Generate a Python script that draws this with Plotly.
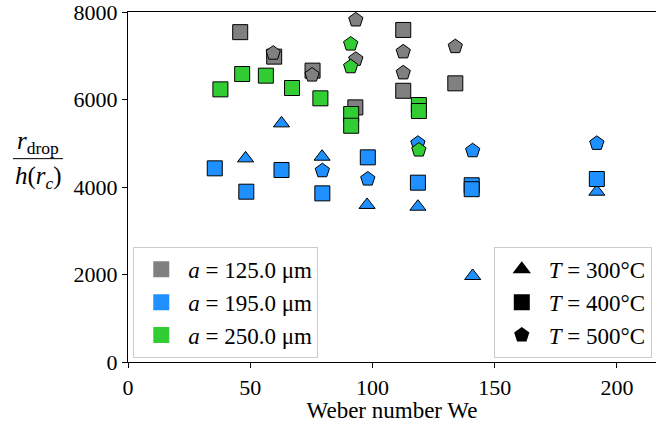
import plotly.graph_objects as go

# Droplet radius ratio vs Weber number, grouped by particle size a and temperature T
# a = 125.0 um (gray)
we_125_T400 = [45.9, 59.8, 75.5, 93.0, 112.6, 112.6, 133.9]
r_125_T400 = [7540, 6980, 6660, 5820, 7590, 6200, 6370]
we_125_T500 = [59.4, 75.3, 93.2, 93.2, 112.6, 112.6, 133.9]
r_125_T500 = [7060, 6560, 7820, 6920, 7090, 6610, 7210]

# a = 195.0 um (blue)
we_195_T300 = [48.1, 62.8, 79.4, 97.8, 118.6, 141.0, 191.8]
r_195_T300 = [4655, 5455, 4693, 3590, 3550, 1966, 3893]
we_195_T400 = [35.5, 48.4, 62.8, 79.5, 98.1, 118.6, 140.6, 140.6, 191.8]
r_195_T400 = [4427, 3893, 4389, 3855, 4678, 4099, 4040, 3950, 4183]
we_195_T500 = [79.5, 98.1, 118.6, 141.0, 191.8]
r_195_T500 = [4373, 4183, 5000, 4830, 4998]

# a = 250.0 um (green)
we_250_T400 = [37.8, 46.7, 56.4, 67.1, 78.7, 91.3, 91.3, 119.0, 119.0]
r_250_T400 = [6232, 6583, 6545, 6263, 6027, 5669, 5400, 5874, 5737]
we_250_T500 = [91.1, 91.1, 119.0]
r_250_T500 = [7269, 6750, 4846]

size_labels = ["125.0", "195.0", "250.0"]
temp_labels = ["300", "400", "500"]
colors = ["#808080", "#1E90FF", "#32CD32"]
symbols = ["triangle-up", "square", "pentagon"]

x_ticks = [0, 50, 100, 150, 200]
y_ticks = [0, 2000, 4000, 6000, 8000]

FONT = "Liberation Serif"

series = [
    (we_125_T400, r_125_T400, 0, 1),
    (we_125_T500, r_125_T500, 0, 2),
    (we_195_T300, r_195_T300, 1, 0),
    (we_195_T400, r_195_T400, 1, 1),
    (we_195_T500, r_195_T500, 1, 2),
    (we_250_T400, r_250_T400, 2, 1),
    (we_250_T500, r_250_T500, 2, 2),
]

fig = go.Figure()
sizes = {"triangle-up": 14, "square": 15, "pentagon": 15}
for xs, ys, ci, si in series:
    fig.add_trace(go.Scatter(
        x=xs, y=ys, mode="markers", showlegend=False, cliponaxis=False,
        marker=dict(symbol=symbols[si], size=sizes[symbols[si]], color=colors[ci],
                    line=dict(color="black", width=1)),
    ))

# Legend for particle size (colour patches)
for lab, col in zip(size_labels, colors):
    fig.add_trace(go.Scatter(
        x=[None], y=[None], mode="markers", legend="legend",
        name=f"<i>a</i> = {lab} μm",
        marker=dict(symbol="square", size=18, color=col, line=dict(width=0)),
    ))

# Legend for temperature (marker shapes)
for lab, sym in zip(temp_labels, symbols):
    fig.add_trace(go.Scatter(
        x=[None], y=[None], mode="markers", legend="legend2",
        name=f"<i>T</i> = {lab}°C",
        marker=dict(symbol=sym, size=16, color="black", line=dict(width=0)),
    ))

legend_style = dict(
    bgcolor="rgba(255,255,255,0.8)", bordercolor="#cccccc", borderwidth=1,
    font=dict(family=FONT, size=23, color="black"),
    itemsizing="trace", tracegroupgap=0, itemwidth=44,
    yanchor="bottom", y=0.012,
)

fig.update_layout(
    width=656, height=423,
    margin=dict(l=128, r=0, t=12, b=61),
    paper_bgcolor="white", plot_bgcolor="white",
    font=dict(family=FONT, size=22, color="black"),
    xaxis=dict(
        range=[0, 216], tickvals=x_ticks, ticks="outside", ticklen=5,
        tickcolor="black", showline=True, linecolor="black", linewidth=1.2,
        mirror=True, showgrid=False, zeroline=False,
        title=dict(text="Weber number We", font=dict(family=FONT, size=23), standoff=7),
    ),
    yaxis=dict(
        range=[0, 8000.5], tickvals=y_ticks, ticks="outside", ticklen=5,
        tickcolor="black", showline=True, linecolor="black", linewidth=1.2,
        mirror=False, showgrid=False, zeroline=False, ticklabeloverflow="allow",
    ),
    legend=dict(legend_style, xanchor="left", x=0.01),
    legend2=dict(legend_style, xanchor="right", x=0.992),
)

# Fraction-style y-axis label: r_drop / h(r_c)
fig.add_annotation(
    xref="paper", yref="paper", x=-0.170, y=0.628, xanchor="center", yanchor="middle",
    text="<i>r</i><sub>drop</sub>", showarrow=False, font=dict(family=FONT, size=25),
)
fig.add_annotation(
    xref="paper", yref="paper", x=-0.170, y=0.527, xanchor="center", yanchor="middle",
    text="<i>h</i>(<i>r</i><sub><i>c</i></sub>)", showarrow=False, font=dict(family=FONT, size=25),
)
fig.add_shape(
    type="line", xref="paper", yref="paper", x0=-0.218, x1=-0.123, y0=0.581, y1=0.581,
    line=dict(color="black", width=1),
)

fig.write_html("out.html")
